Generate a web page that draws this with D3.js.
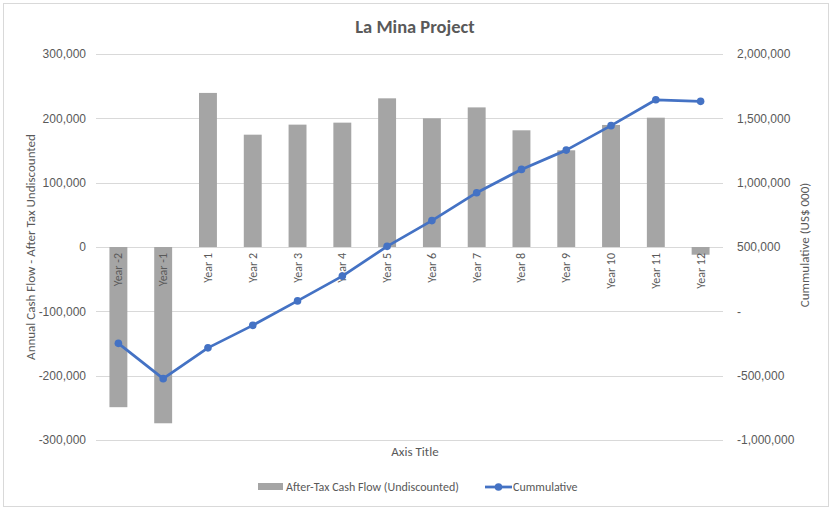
<!DOCTYPE html>
<html>
<head>
<meta charset="utf-8">
<script src="https://cdn.jsdelivr.net/npm/d3@7"></script>
<style>
  body { margin: 0; background: #fff; }
  svg { font-family: Carlito, Calibri, Lato, sans-serif; }
</style>
</head>
<body>
<div id="chart"></div>
<script>
const years = ['Year -2', 'Year -1', 'Year 1', 'Year 2', 'Year 3', 'Year 4', 'Year 5',
  'Year 6', 'Year 7', 'Year 8', 'Year 9', 'Year 10', 'Year 11', 'Year 12'];
const cashFlow = [-249000, -274000, 239500, 174600, 190200, 193300, 231100,
  200000, 217000, 181400, 150300, 189700, 201000, -12000];
const cumulative = [-249000, -523000, -284000, -109000, 81000, 274000, 505000,
  705000, 922000, 1103000, 1253000, 1443000, 1644000, 1632000];
const leftTicks = [-300000, -200000, -100000, 0, 100000, 200000, 300000];
const rightTicks = [-1000000, -500000, 0, 500000, 1000000, 1500000, 2000000];

const W = 832, H = 510;
const margin = {top: 54, bottom: 70, left: 96, right: 109};
const width = W - margin.left - margin.right;
const height = H - margin.top - margin.bottom;
const textColor = '#595959';

const svg = d3.select('#chart').append('svg')
    .attr('width', W)
    .attr('height', H);

// chart border
svg.append('rect')
    .attr('x', 3.5).attr('y', 3.5)
    .attr('width', W - 7).attr('height', H - 7)
    .attr('fill', '#fff')
    .attr('stroke', '#d9d9d9');

const x = d3.scaleBand().domain(years).range([0, width]).paddingInner(0.6).paddingOuter(0.3);
const yL = d3.scaleLinear().domain([-300000, 300000]).range([height, 0]);
const yR = d3.scaleLinear().domain([-1000000, 2000000]).range([height, 0]);

const g = svg.append('g')
    .attr('transform', 'translate(' + margin.left + ',' + margin.top + ')');

// gridlines
g.append('g')
    .selectAll('line')
    .data(leftTicks)
    .join('line')
    .attr('x1', 0).attr('x2', width)
    .attr('y1', d => Math.round(yL(d)) + 0.5)
    .attr('y2', d => Math.round(yL(d)) + 0.5)
    .attr('stroke', '#d9d9d9');

// excel style: plain hyphen for negatives
const fmt = d => d3.format(',')(d).replace('\u2212', '-');

// left axis
const leftAxis = g.append('g')
    .call(d3.axisLeft(yL).tickValues(leftTicks).tickFormat(fmt).tickSize(0).tickPadding(10));
leftAxis.select('.domain').remove();
leftAxis.selectAll('text').attr('fill', textColor).style('font-size', '12px');

// right axis
const rightAxis = g.append('g')
    .attr('transform', 'translate(' + width + ',0)')
    .call(d3.axisRight(yR).tickValues(rightTicks)
      .tickFormat(d => d === 0 ? '-' : fmt(d)).tickSize(0).tickPadding(14));
rightAxis.select('.domain').remove();
rightAxis.selectAll('text').attr('fill', textColor).style('font-size', '12px');

// bars
g.selectAll('.bar')
    .data(years)
    .join('rect')
    .attr('class', 'bar')
    .attr('x', d => x(d))
    .attr('width', x.bandwidth())
    .attr('y', (d, i) => yL(Math.max(0, cashFlow[i])))
    .attr('height', (d, i) => Math.abs(yL(cashFlow[i]) - yL(0)))
    .attr('fill', '#a5a5a5');

// category labels, rotated, hanging below zero
g.selectAll('.cat')
    .data(years)
    .join('text')
    .attr('class', 'cat')
    .attr('transform', d => 'translate(' + (x(d) + x.bandwidth() / 2 + 4) + ',' + (yL(0) + 6) + ') rotate(-90)')
    .attr('text-anchor', 'end')
    .attr('fill', textColor)
    .style('font-size', '12px')
    .text(d => d);

// cumulative line
const line = d3.line()
    .x((d, i) => x(years[i]) + x.bandwidth() / 2)
    .y(d => yR(d));

g.append('path')
    .datum(cumulative)
    .attr('d', line)
    .attr('fill', 'none')
    .attr('stroke', '#4472c4')
    .attr('stroke-width', 2.75)
    .attr('stroke-linejoin', 'round');

g.selectAll('.dot')
    .data(cumulative)
    .join('circle')
    .attr('class', 'dot')
    .attr('cx', (d, i) => x(years[i]) + x.bandwidth() / 2)
    .attr('cy', d => yR(d))
    .attr('r', 3.8)
    .attr('fill', '#4472c4');

// title
svg.append('text')
    .attr('x', 415).attr('y', 33)
    .attr('text-anchor', 'middle')
    .attr('fill', textColor)
    .style('font-size', '18.5px')
    .style('font-weight', 'bold')
    .text('La Mina Project');

// axis titles
svg.append('text')
    .attr('x', 415).attr('y', 456)
    .attr('text-anchor', 'middle')
    .attr('fill', textColor)
    .style('font-size', '13px')
    .text('Axis Title');

svg.append('text')
    .attr('transform', 'translate(35,' + (margin.top + height / 2) + ') rotate(-90)')
    .attr('text-anchor', 'middle')
    .attr('fill', textColor)
    .style('font-size', '13px')
    .text('Annual Cash Flow - After Tax Undiscounted');

svg.append('text')
    .attr('transform', 'translate(809,' + (margin.top + height / 2 - 2) + ') rotate(-90)')
    .attr('text-anchor', 'middle')
    .attr('fill', textColor)
    .style('font-size', '13px')
    .text('Cummulative (US$ 000)');

// legend
const legend = svg.append('g').attr('transform', 'translate(0,487)');
legend.append('rect')
    .attr('x', 258).attr('y', -4)
    .attr('width', 25).attr('height', 7)
    .attr('fill', '#a5a5a5');
legend.append('text')
    .attr('x', 286).attr('y', 4)
    .attr('fill', textColor)
    .style('font-size', '12px')
    .text('After-Tax Cash Flow (Undiscounted)');
legend.append('line')
    .attr('x1', 485).attr('x2', 512)
    .attr('y1', 0).attr('y2', 0)
    .attr('stroke', '#4472c4')
    .attr('stroke-width', 2.75);
legend.append('circle')
    .attr('cx', 498.5).attr('cy', 0).attr('r', 3.8)
    .attr('fill', '#4472c4');
legend.append('text')
    .attr('x', 513).attr('y', 4)
    .attr('fill', textColor)
    .style('font-size', '12px')
    .text('Cummulative');
</script>
</body>
</html>
